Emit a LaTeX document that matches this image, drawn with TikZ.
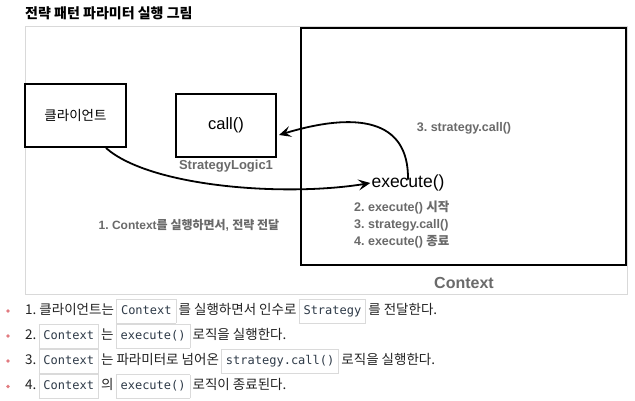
\documentclass[tikz,border=0pt]{standalone}
\usepackage{fontspec}
\setmainfont{Liberation Sans}
\newfontfamily\kr{Noto Sans CJK KR}
\newfontfamily\mono{DejaVu Sans Mono}
\usetikzlibrary{arrows.meta}
\frenchspacing
\definecolor{labgray}{HTML}{6A6A6A}
\definecolor{framegray}{HTML}{D9D9D9}
\definecolor{codeborder}{HTML}{DADADA}
\definecolor{codetext}{HTML}{2E3A48}
\definecolor{listtext}{HTML}{222222}
\definecolor{bulletpink}{HTML}{E27B80}
\newcommand\fs[1]{\fontsize{#1}{#1}\selectfont}
\newcommand\cd[1]{{\setlength\fboxsep{4pt}\setlength\fboxrule{0.8pt}\fcolorbox{codeborder}{white}{\mono\fs{12}\color{codetext}\rule[-4.5pt]{0pt}{15pt}#1}}}
\begin{document}
\begin{tikzpicture}[x=1pt,y=-1pt,
  blackbox/.style={draw=black,line width=2pt,inner sep=0pt},
  graylab/.style={text=labgray,font=\bfseries\fs{12}},
  flow/.style={line width=1.8pt,-{Stealth[length=12pt,width=11pt,inset=5pt]}},
  listline/.style={anchor=west,inner sep=0pt,text=listtext,font=\kr\fs{13.5}},
  bullet/.style={circle,fill=bulletpink,inner sep=0pt,minimum size=3.8pt}]
\useasboundingbox (0,0) rectangle (635,401);
\fill[white] (0,0) rectangle (635,401);
% title
\node[anchor=west,inner sep=0pt,font=\kr\bfseries\fs{14}] (title) at (25,13) {전략 패턴 파라미터 실행 그림};
% outer frame
\draw[framegray,line width=1pt] (25,27) rectangle (627,294);
% boxes
\node[blackbox,minimum width=101pt,minimum height=63pt,font=\kr\fs{13.5}] (client) at (75.5,115.5) {클라이언트};
\node[blackbox,minimum width=100pt,minimum height=63pt,font=\fs{16.5}] (callbox) at (226,125.5) {call()};
\node[graylab,font=\bfseries\fs{13}] (slabel) at (226,166) {StrategyLogic1};
\draw[black,line width=2pt] (301,28) rectangle (626,265);
\node[text=labgray,font=\bfseries\fs{16}] (ctxlabel) at (464,283) {Context};
% texts in context
\node[font=\fs{17.5},inner sep=1pt] (execute) at (408,183) {execute()};
\node[graylab,font=\bfseries\fs{12.5}] (top3) at (464,128) {3. strategy.call()};
\node[graylab,anchor=west,inner sep=0pt,font=\bfseries\fs{12.5}] (s2) at (354,208) {2. execute() {\kr 시작}};
\node[graylab,anchor=west,inner sep=0pt,font=\bfseries\fs{12.5}] (s3) at (354,225.5) {3. strategy.call()};
\node[graylab,anchor=west,inner sep=0pt,font=\bfseries\fs{12.5}] (s4) at (354,242) {4. execute() {\kr 종료}};
\node[graylab] (step1) at (189,225) {1. Context{\kr 를 실행하면서}, {\kr 전략 전달}};
% connectors
\coordinate (cstart) at ([xshift=-21pt]client.south east);
\draw[flow] (cstart) .. controls (150,187) and (285,197) .. (execute.west);
\coordinate (estart) at ([yshift=-6pt]execute.north);
\draw[flow] (estart) .. controls (409,118) and (355,112) .. ([xshift=2pt,yshift=-9.5pt]callbox.east);
% list
\node[bullet] (b1) at (8,311) {};
\node[bullet] (b2) at (8,336) {};
\node[bullet] (b3) at (8,361) {};
\node[bullet] (b4) at (8,386.5) {};
\node[listline] (l1) at (25,311) {1. 클라이언트는\,\cd{Context}\,를 실행하면서 인수로\,\cd{Strategy}\,를 전달한다.};
\node[listline] (l2) at (25,336) {2.\,\cd{Context}\,는\,\cd{execute()}\,로직을 실행한다.};
\node[listline] (l3) at (25,361) {3.\,\cd{Context}\,는 파라미터로 넘어온\,\cd{strategy.call()}\,로직을 실행한다.};
\node[listline] (l4) at (25,386.5) {4.\,\cd{Context}\,의\,\cd{execute()}\,로직이 종료된다.};
\end{tikzpicture}
\end{document}
